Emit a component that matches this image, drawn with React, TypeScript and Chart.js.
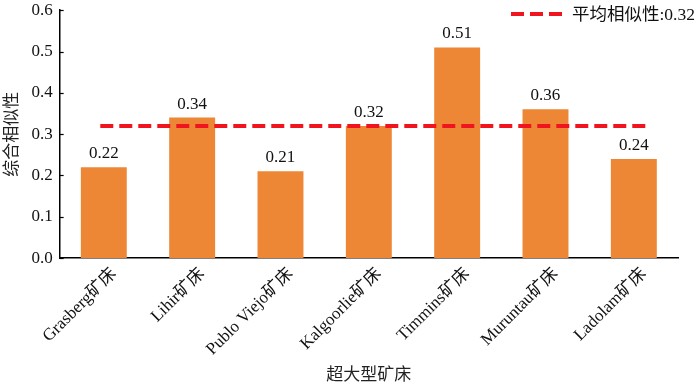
import React, { useEffect, useRef } from "react";
import { Chart, registerables } from "chart.js";

Chart.register(...registerables);

const categories = ["Grasberg矿床", "Lihir矿床", "Publo Viejo矿床", "Kalgoorlie矿床", "Timmins矿床", "Muruntau矿床", "Ladolam矿床"];
const similarity = [0.22, 0.34, 0.21, 0.32, 0.51, 0.36, 0.24];
const meanValue = 0.32;
const meanLabel = "平均相似性:0.32";
const meanLineX = [-0.04, 6.15];
const yTicks = [0, 0.1, 0.2, 0.3, 0.4, 0.5, 0.6];
const xTitle = "超大型矿床";
const yTitle = "综合相似性";

const FONT = "'Liberation Serif', 'Noto Sans CJK SC', serif";
const BAR = "#ED8735";
const RED = "#F0141E";
const SHIFT = 7;

const overlay = {
  id: "overlay",
  afterDatasetsDraw(chart: any) {
    const { ctx, chartArea, scales } = chart;
    const ys = scales.y;
    const xs = scales.x;
    ctx.save();
    // inner ticks on y axis
    ctx.strokeStyle = "#000";
    ctx.lineWidth = 1.2;
    yTicks.forEach((v) => {
      const y = Math.round(ys.getPixelForValue(v)) + 0.5;
      ctx.beginPath();
      ctx.moveTo(chartArea.left, y);
      ctx.lineTo(chartArea.left + 4, y);
      ctx.stroke();
    });
    // value labels
    ctx.fillStyle = "#111";
    ctx.font = `17px ${FONT}`;
    ctx.textAlign = "center";
    ctx.textBaseline = "alphabetic";
    similarity.forEach((v, i) => {
      const x = xs.getPixelForValue(i);
      const y = ys.getPixelForValue(v);
      ctx.fillText(v.toFixed(2), x, y - 9);
    });
    // legend
    const lx = chartArea.right - 167;
    const ly = 14 + SHIFT;
    ctx.strokeStyle = RED;
    ctx.lineWidth = 4;
    ctx.setLineDash([13, 6]);
    ctx.beginPath();
    ctx.moveTo(lx, ly);
    ctx.lineTo(lx + 51, ly);
    ctx.stroke();
    ctx.setLineDash([]);
    ctx.fillStyle = "#111";
    ctx.textAlign = "left";
    ctx.textBaseline = "middle";
    ctx.font = `17.5px ${FONT}`;
    ctx.fillText(meanLabel, lx + 61, ly + 1);
    ctx.restore();
  },
};

export default function App() {
  const ref = useRef<HTMLCanvasElement>(null);
  useEffect(() => {
    document.body.style.margin = "0";
    const chart = new Chart(ref.current as HTMLCanvasElement, {
      type: "bar",
      data: {
        labels: categories,
        datasets: [
          {
            type: "bar",
            data: similarity,
            backgroundColor: BAR,
            barPercentage: 0.52,
            categoryPercentage: 1,
            grouped: false,
            xAxisID: "x",
            order: 2,
          } as any,
          {
            type: "line",
            data: meanLineX.map((x) => ({ x, y: meanValue })),
            xAxisID: "x2",
            borderColor: RED,
            borderWidth: 4,
            borderDash: [13, 6],
            pointRadius: 0,
            fill: false,
            order: 1,
          } as any,
        ],
      },
      options: {
        animation: false,
        responsive: false,
        layout: { padding: { top: 0, right: 22, left: 2, bottom: 0 } },
        plugins: { legend: { display: false }, tooltip: { enabled: false } },
        scales: {
          x: {
            type: "category",
            offset: true,
            grid: { display: false, drawTicks: false },
            border: { color: "#000", width: 1.5 },
            ticks: {
              maxRotation: 45,
              minRotation: 45,
              color: "#111",
              padding: 6,
              labelOffset: 10,
              font: { family: FONT, size: 17 },
            },
            title: {
              display: true,
              text: xTitle,
              color: "#222",
              font: { family: FONT, size: 17 },
              padding: { top: 0, bottom: 2 },
            },
          },
          x2: {
            type: "linear",
            display: false,
            offset: false,
            bounds: "data",
            min: -0.5,
            max: 6.5,
          } as any,
          y: {
            min: 0,
            max: 0.6,
            grid: { display: false, drawTicks: false },
            border: { color: "#000", width: 1.5 },
            afterBuildTicks: (axis: any) => {
              axis.ticks = yTicks.map((v) => ({ value: v }));
            },
            ticks: {
              color: "#111",
              padding: 7,
              font: { family: FONT, size: 17 },
              callback: (v: any) => Number(v).toFixed(1),
            },
            title: {
              display: true,
              text: yTitle,
              color: "#222",
              font: { family: FONT, size: 17 },
              padding: { top: 0, bottom: 2 },
            },
          },
        },
      },
      plugins: [overlay],
    });
    return () => chart.destroy();
  }, []);
  return (
    <div style={{ width: 700, height: 383, overflow: "hidden", position: "relative" }}>
      <canvas
        ref={ref}
        width={700}
        height={383 + SHIFT + 5}
        style={{ position: "absolute", left: 0, top: -SHIFT }}
      />
    </div>
  );
}
